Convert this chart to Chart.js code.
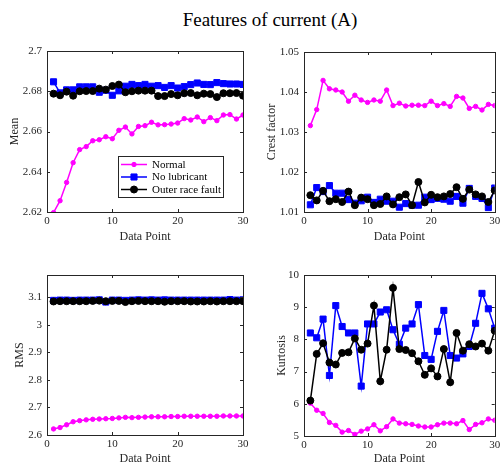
<!DOCTYPE html>
<html><head><meta charset="utf-8">
<script src="https://cdn.jsdelivr.net/npm/chart.js@4.4.0/dist/chart.umd.min.js"></script>
<style>
html,body{margin:0;padding:0;background:#fff;}
#wrap{position:relative;width:500px;height:466px;overflow:hidden;background:#fff;}
canvas{position:absolute;left:0;top:0;}
#title{position:absolute;left:0;width:540px;top:9px;text-align:center;font:19px "Liberation Serif",serif;color:#000;line-height:22px;}
</style></head><body>
<div id="wrap">
<div id="title">Features of current (A)</div>
<canvas id="c1" width="500" height="466"></canvas>
<canvas id="c2" width="500" height="466"></canvas>
<canvas id="c3" width="500" height="466"></canvas>
<canvas id="c4" width="500" height="466"></canvas>
</div>
<script>
// ---------- data ----------
const dataPoint = [1,2,3,4,5,6,7,8,9,10,11,12,13,14,15,16,17,18,19,20,21,22,23,24,25,26,27,28,29,30];
const seriesNames = ['Normal','No lubricant','Outer race fault'];
const xTicks = [0,10,20,30];

const meanNormal = [2.6197,2.6256,2.6347,2.6445,2.6510,2.6525,2.6554,2.6559,2.6574,2.6564,2.6606,2.6622,2.6588,2.6625,2.6629,2.6646,2.6633,2.6634,2.6637,2.6642,2.6664,2.6657,2.6672,2.6649,2.6669,2.6654,2.6682,2.6684,2.6662,2.6682];
const meanNoLub  = [2.6847,2.6792,2.6807,2.6807,2.6822,2.6822,2.6822,2.6795,2.6805,2.6780,2.6802,2.6825,2.6834,2.6828,2.6834,2.6825,2.6828,2.6819,2.6828,2.6816,2.6823,2.6833,2.6841,2.6834,2.6833,2.6843,2.6838,2.6836,2.6836,2.6834];
const meanOuter  = [2.6788,2.6780,2.6798,2.6778,2.6800,2.6801,2.6801,2.6813,2.6808,2.6826,2.6833,2.6795,2.6800,2.6803,2.6803,2.6803,2.6776,2.6776,2.6786,2.6780,2.6790,2.6791,2.6780,2.6788,2.6786,2.6771,2.6790,2.6790,2.6791,2.6778];
const meanTicks  = [2.62,2.64,2.66,2.68,2.7];

const crestNormal = [1.0316,1.0356,1.0429,1.0408,1.0405,1.0400,1.0377,1.0392,1.0380,1.0374,1.0380,1.0377,1.0405,1.0366,1.0372,1.0365,1.0367,1.0367,1.0366,1.0377,1.0366,1.0371,1.0364,1.0389,1.0385,1.0359,1.0364,1.0355,1.0369,1.0366];
const crestNoLub  = [1.0118,1.0161,1.0151,1.0166,1.0147,1.0147,1.0131,1.0122,1.0128,1.0137,1.0124,1.0132,1.0127,1.0127,1.0112,1.0121,1.0117,1.0117,1.0137,1.0131,1.0134,1.0132,1.0127,1.0139,1.0122,1.0159,1.0139,1.0134,1.0111,1.0160];
const crestOuter  = [1.0142,1.0129,1.0153,1.0127,1.0132,1.0125,1.0151,1.0117,1.0136,1.0132,1.0117,1.0120,1.0139,1.0119,1.0137,1.0144,1.0117,1.0175,1.0124,1.0143,1.0137,1.0139,1.0145,1.0162,1.0133,1.0156,1.0144,1.0139,1.0125,1.0154];
const crestTicks  = [1.01,1.02,1.03,1.04,1.05];

const rmsNormal = [2.622,2.627,2.637,2.648,2.652,2.655,2.657,2.658,2.659,2.660,2.662,2.664,2.663,2.664,2.665,2.666,2.666,2.666,2.667,2.667,2.668,2.668,2.668,2.668,2.668,2.668,2.669,2.669,2.669,2.669];
const rmsNoLub  = [3.088,3.089,3.089,3.088,3.089,3.089,3.089,3.090,3.082,3.089,3.089,3.088,3.089,3.090,3.089,3.090,3.089,3.090,3.089,3.089,3.089,3.089,3.089,3.089,3.089,3.089,3.089,3.091,3.089,3.090];
const rmsOuter  = [3.084,3.085,3.085,3.085,3.085,3.085,3.086,3.087,3.085,3.086,3.086,3.082,3.085,3.086,3.085,3.085,3.085,3.083,3.085,3.085,3.085,3.084,3.084,3.084,3.085,3.084,3.085,3.085,3.085,3.085];
const rmsTicks  = [2.6,2.7,2.8,2.9,3,3.1];

const kurtNormal = [6.02,5.80,5.70,5.42,5.33,5.12,5.17,5.05,5.15,5.22,5.35,5.16,5.29,5.53,5.40,5.38,5.36,5.31,5.28,5.28,5.35,5.40,5.40,5.38,5.48,5.20,5.36,5.41,5.53,5.49];
const kurtNoLub  = [8.20,8.05,8.63,6.88,9.05,8.40,8.20,8.20,6.55,8.48,8.48,8.85,8.92,8.30,7.85,8.35,8.48,9.08,7.50,7.38,8.25,8.90,7.50,7.42,7.55,7.78,8.50,9.43,8.95,8.35];
const kurtOuter  = [6.10,7.55,7.88,7.28,7.22,7.58,7.60,8.03,7.68,7.87,9.05,6.70,7.68,9.60,7.70,7.67,7.57,7.32,6.90,7.10,6.85,7.70,6.67,8.20,7.65,7.85,7.78,7.87,7.65,8.27];
const kurtTicks  = [5,6,7,8,9,10];

// ---------- styles ----------
const FONT = '"Liberation Serif", "Times New Roman", serif';
const AX = '#262626';
const styles = [
  {color:'#FF00FF', pointStyle:'circle', radius:2.2, order:3},
  {color:'#0000FF', pointStyle:'rect',   radius:4.3, order:2},
  {color:'#000000', pointStyle:'circle', radius:3.5, order:1}
];

const boxPlugin = {
  id:'matlabBox',
  afterDatasetsDraw(chart){
    const {ctx, chartArea:a, scales:{x,y}} = chart;
    const TL = 3;
    ctx.save();
    ctx.strokeStyle = AX; ctx.lineWidth = 1;
    ctx.beginPath();
    x.ticks.forEach(t=>{
      const px = Math.round(x.getPixelForValue(t.value))+0.5;
      ctx.moveTo(px,a.bottom); ctx.lineTo(px,a.bottom-TL);
      ctx.moveTo(px,a.top); ctx.lineTo(px,a.top+TL);
    });
    y.ticks.forEach(t=>{
      const py = Math.round(y.getPixelForValue(t.value))+0.5;
      ctx.moveTo(a.left,py); ctx.lineTo(a.left+TL,py);
      ctx.moveTo(a.right,py); ctx.lineTo(a.right-TL,py);
    });
    ctx.stroke();
    ctx.strokeRect(Math.round(a.left)+0.5, Math.round(a.top)+0.5, Math.round(a.right)-Math.round(a.left), Math.round(a.bottom)-Math.round(a.top));
    ctx.restore();
  }
};

function drawMarker(ctx, st, x, y){
  ctx.fillStyle = st.color; ctx.strokeStyle = st.color; ctx.lineWidth = 1;
  ctx.beginPath();
  if (st.pointStyle === 'rect'){
    const s = st.radius*Math.SQRT1_2;
    ctx.rect(x-s,y-s,2*s,2*s);
  } else {
    ctx.arc(x,y,st.radius,0,Math.PI*2);
  }
  ctx.fill(); ctx.stroke();
}

const legendPlugin = {
  id:'insideLegend',
  afterDraw(chart){
    const {ctx, chartArea:a} = chart;
    const L = a.left+71, R = a.right-20, T = a.top+105, B = a.bottom-15;
    ctx.save();
    ctx.fillStyle = '#fff';
    ctx.fillRect(L,T,R-L,B-T);
    ctx.strokeStyle = AX; ctx.lineWidth = 1;
    ctx.strokeRect(Math.round(L)+0.5, Math.round(T)+0.5, Math.round(R-L), Math.round(B-T));
    chart.data.datasets.forEach((ds,i)=>{
      const st = styles[i];
      const cy = T + 8.5 + i*12.5;
      ctx.strokeStyle = st.color; ctx.lineWidth = 1.5;
      ctx.beginPath(); ctx.moveTo(L+3,cy); ctx.lineTo(L+29,cy); ctx.stroke();
      drawMarker(ctx, st, L+16, cy);
      ctx.fillStyle = '#000';
      ctx.font = '11px ' + FONT;
      ctx.textBaseline = 'middle'; ctx.textAlign = 'left';
      ctx.fillText(ds.label, L+34, cy+0.5);
    });
    ctx.restore();
  }
};

function makeChart(id, cfg){
  const {area, yTitleX, xTitleY, yMin, yMax, yTicks, yTitle, series, legend} = cfg;
  const lh = 12*1.2;
  const padLeft = yTitleX - lh/2;
  const yWidth = area.l - padLeft;
  let xHeight = xTitleY + lh/2 - area.b;
  let padBottom = 466 - area.b - xHeight;
  if (padBottom < 0){ padBottom = 0; xHeight = 466 - area.b; }
  const datasets = series.map((vals,i)=>({
    label: seriesNames[i],
    data: dataPoint.map((d,k)=>({x:d, y:vals[k]})),
    borderColor: styles[i].color,
    backgroundColor: styles[i].color,
    pointBackgroundColor: styles[i].color,
    pointBorderColor: styles[i].color,
    pointStyle: styles[i].pointStyle,
    pointRadius: styles[i].radius,
    pointBorderWidth: 1,
    borderWidth: 1.5,
    tension: 0,
    order: styles[i].order
  }));
  return new Chart(document.getElementById(id), {
    type:'line',
    data:{datasets},
    options:{
      responsive:false, animation:false, devicePixelRatio:1,
      layout:{padding:{left:padLeft, top:area.t, right:500-area.r, bottom:padBottom}},
      plugins:{legend:{display:false}, tooltip:{enabled:false}},
      scales:{
        x:{
          type:'linear', min:0, max:30,
          afterBuildTicks: s=>{ s.ticks = xTicks.map(v=>({value:v})); },
          grid:{display:false, drawTicks:false}, border:{display:false},
          ticks:{font:{family:FONT,size:11}, color:AX, padding:3, maxRotation:0, autoSkip:false, callback:v=>String(v)},
          title:{display:true, text:'Data Point', font:{family:FONT,size:12}, color:AX, padding:0},
          afterFit: s=>{ s.height = xHeight; s.paddingLeft = 0; s.paddingRight = 0; }
        },
        y:{
          type:'linear', min:yMin, max:yMax,
          afterBuildTicks: s=>{ s.ticks = yTicks.map(v=>({value:v})); },
          grid:{display:false, drawTicks:false}, border:{display:false},
          ticks:{font:{family:FONT,size:11}, color:AX, padding:5, autoSkip:false, callback:v=>String(v)},
          title:{display:true, text:yTitle, font:{family:FONT,size:12}, color:AX, padding:0},
          afterFit: s=>{ s.width = yWidth; s.paddingTop = 0; s.paddingBottom = 0; }
        }
      }
    },
    plugins: legend ? [boxPlugin, legendPlugin] : [boxPlugin]
  });
}

makeChart('c1', {area:{l:47,t:51,r:243,b:212}, yTitleX:15, xTitleY:237, yMin:2.62, yMax:2.7, yTicks:meanTicks, yTitle:'Mean', series:[meanNormal,meanNoLub,meanOuter], legend:true});
makeChart('c2', {area:{l:304,t:52,r:499,b:212}, yTitleX:272, xTitleY:237, yMin:1.01, yMax:1.05, yTicks:crestTicks, yTitle:'Crest factor', series:[crestNormal,crestNoLub,crestOuter]});
makeChart('c3', {area:{l:47,t:275,r:243,b:435}, yTitleX:20, xTitleY:460, yMin:2.6, yMax:3.18, yTicks:rmsTicks, yTitle:'RMS', series:[rmsNormal,rmsNoLub,rmsOuter]});
makeChart('c4', {area:{l:304,t:275,r:499,b:436}, yTitleX:282, xTitleY:460, yMin:5, yMax:10, yTicks:kurtTicks, yTitle:'Kurtosis', series:[kurtNormal,kurtNoLub,kurtOuter]});
</script>
</body></html>
